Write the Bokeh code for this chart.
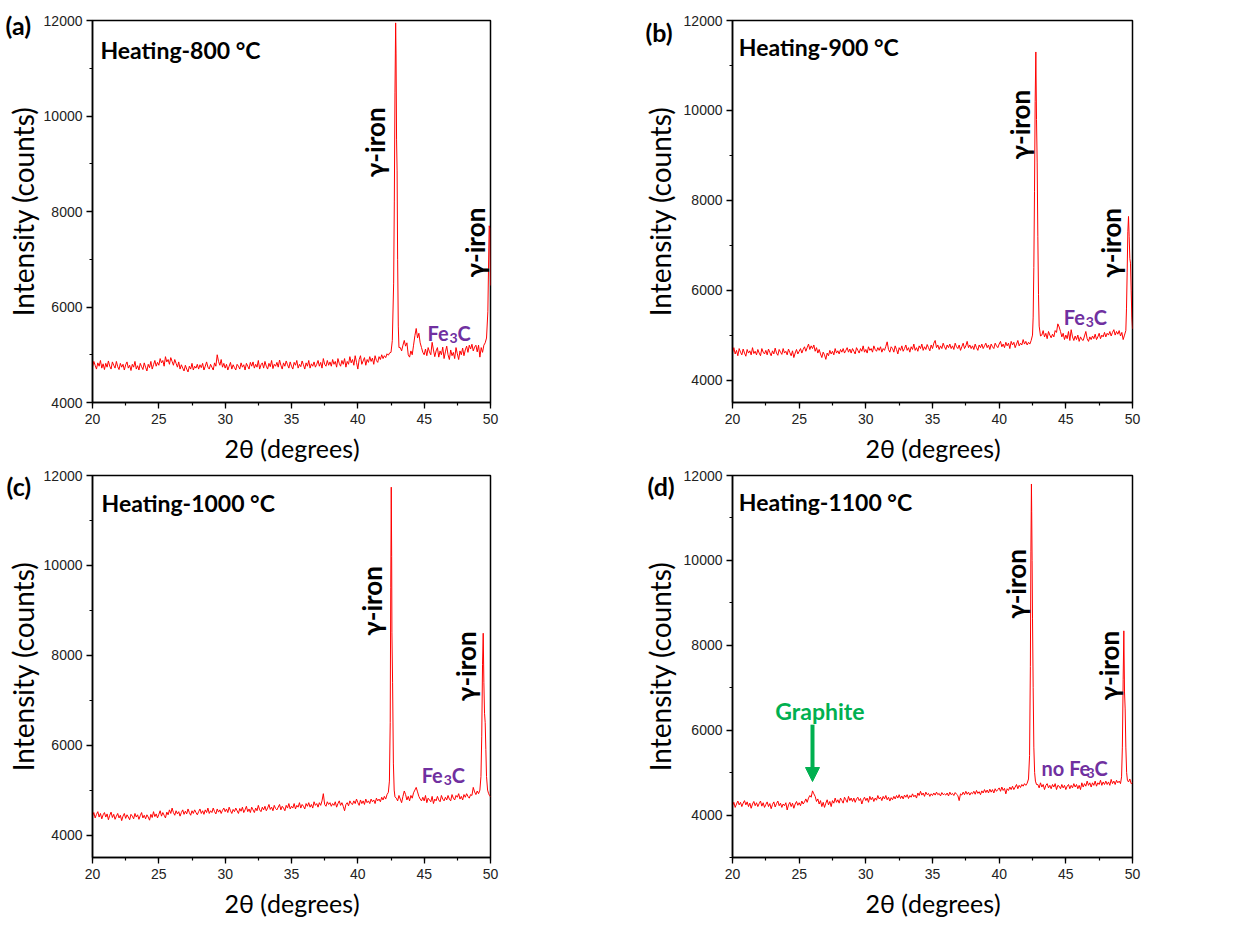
import numpy as np
from bokeh.plotting import figure
from bokeh.layouts import gridplot
from bokeh.models import Label, Arrow, NormalHead, Range1d, SingleIntervalTicker
from bokeh.embed import file_html
from bokeh.resources import INLINE

# ---------------- data ----------------
STEP = 0.1

# (a) Heating-800 °C
a_seg1_start = 20.0
a_seg1_y = [4740, 4860, 4780, 4700, 4830, 4760, 4880, 4720, 4810, 4690,
            4820, 4740, 4870, 4760, 4700, 4850, 4780, 4720, 4860, 4750,
            4690, 4820, 4740, 4800, 4680, 4790, 4850, 4720, 4780, 4670,
            4800, 4740, 4860, 4700, 4770, 4680, 4820, 4750, 4690, 4830,
            4740, 4660, 4800, 4730, 4860, 4700, 4790, 4880, 4760, 4840,
            4780, 4920, 4830, 4880, 4760, 4960, 4850, 4900, 4800, 4940,
            4860, 4780, 4900, 4820, 4740, 4850, 4700, 4790, 4720, 4660,
            4780, 4700, 4640, 4760, 4700, 4820, 4680, 4760, 4720, 4800,
            4700, 4790, 4730, 4820, 4680, 4760, 4850, 4740, 4700, 4800,
            4740, 4680, 4830, 4760, 5000, 4860, 4780, 4900, 4740, 4820,
            4720, 4800, 4680, 4760, 4840, 4700, 4790, 4730, 4680, 4800,
            4760, 4700, 4830, 4740, 4790, 4680, 4820, 4760, 4700, 4840,
            4760, 4850, 4720, 4800, 4740, 4880, 4700, 4790, 4830, 4720,
            4860, 4760, 4700, 4820, 4750, 4880, 4710, 4800, 4760, 4840,
            4740, 4890, 4780, 4700, 4830, 4760, 4870, 4790, 4720, 4850,
            4760, 4700, 4840, 4780, 4880, 4720, 4800, 4750, 4870, 4790,
            4700, 4830, 4760, 4880, 4720, 4810, 4760, 4850, 4740, 4800,
            4880, 4760, 4840, 4720, 4920, 4800, 4760, 4880, 4780, 4850,
            4760, 4900, 4800, 4860, 4740, 4920, 4820, 4760, 4880, 4800,
            4920, 4740, 4860, 4800, 4960, 4830, 4900, 4780, 4980, 4840,
            4700, 4900, 4980, 4800, 4870, 4940, 4780, 4900, 4840, 4960,
            4860, 4930, 4800, 4980, 4880, 4840, 4960, 4900, 5000, 4920,
            4980, 4940, 5020, 4990, 5040]
a_peak1_x = [42.5, 42.6, 42.7, 42.75, 42.8, 42.85, 42.88, 42.92, 42.96, 43.0, 43.05, 43.1]
a_peak1_y = [5050, 5300, 6500, 8200, 10500, 11950, 11300, 9500, 8850, 7000, 5600, 5150]
a_seg2_start = 43.2
a_seg2_y = [5150, 5080, 5200, 5300, 5180, 5250, 5000, 4950,
            5080, 5000, 5200, 5400, 5550, 5350, 5450, 5250, 5150, 5050,
            5000, 5120, 4980, 5150, 5060, 5000, 5260, 5100, 4960, 5080,
            5150, 4950, 5080, 5000, 5160, 4920, 5060, 5180, 5000, 4900,
            5100, 4980, 5050, 4920, 5150, 5020, 4900, 5080, 5000, 5140,
            4980, 5100, 5180, 5050, 5200, 5120, 5220, 5080, 5160, 5200,
            5060, 5200, 4950, 5150, 5050, 5200, 5250]
a_peak2_x = [49.7, 49.8, 49.85, 49.9, 49.95, 50.0]
a_peak2_y = [5350, 5900, 6800, 7700, 7650, 6450]

# (b) Heating-900 °C
b_seg1_start = 20.0
b_seg1_y = [4600, 4720, 4580, 4660, 4540, 4700, 4620, 4560, 4690, 4600,
            4530, 4680, 4600, 4650, 4560, 4720, 4590, 4640, 4560, 4680,
            4600, 4540, 4700, 4620, 4580, 4660, 4560, 4690, 4610, 4540,
            4650, 4580, 4710, 4600, 4550, 4680, 4620, 4570, 4700, 4600,
            4640, 4560, 4690, 4610, 4540, 4650, 4500, 4600, 4680, 4580,
            4640, 4700, 4600, 4680, 4740, 4640, 4720, 4800, 4680, 4760,
            4700, 4780, 4640, 4720, 4600, 4680, 4580, 4500, 4620, 4560,
            4460, 4600, 4540, 4660, 4580, 4640, 4560, 4700, 4600, 4650,
            4580, 4680, 4620, 4700, 4600, 4660, 4720, 4620, 4690, 4600,
            4700, 4640, 4580, 4720, 4660, 4600, 4700, 4640, 4760, 4620,
            4680, 4600, 4740, 4660, 4700, 4620, 4760, 4680, 4640, 4720,
            4660, 4740, 4620, 4700, 4660, 4750, 4850, 4680, 4620, 4740,
            4700, 4620, 4760, 4680, 4580, 4720, 4660, 4760, 4640, 4700,
            4780, 4660, 4720, 4620, 4740, 4680, 4800, 4660, 4720, 4640,
            4760, 4700, 4800, 4660, 4740, 4680, 4790, 4720, 4650, 4780,
            4700, 4820, 4880, 4720, 4780, 4680, 4760, 4700, 4820, 4740,
            4680, 4780, 4720, 4800, 4700, 4760, 4680, 4820, 4740, 4700,
            4780, 4660, 4740, 4820, 4700, 4760, 4860, 4720, 4780, 4700,
            4760, 4680, 4800, 4720, 4660, 4780, 4720, 4800, 4700, 4760,
            4820, 4720, 4780, 4680, 4800, 4740, 4700, 4820, 4760, 4720,
            4800, 4860, 4740, 4800, 4720, 4840, 4760, 4820, 4700, 4860,
            4780, 4840, 4720, 4800, 4880, 4760, 4820, 4780, 4900, 4800,
            4860, 4780, 4840, 4800, 4880]
b_peak1_x = [42.5, 42.55, 42.6, 42.65, 42.7, 42.75, 42.8, 42.85, 42.9, 42.95, 43.0, 43.1]
b_peak1_y = [5000, 5400, 6500, 8200, 10200, 11300, 9800, 8850, 7200, 5900, 5200, 4980]
b_seg2_start = 43.2
b_seg2_y = [5000, 5100, 4960, 5040, 4920, 5080, 5000, 4940,
            5020, 4960, 5100, 5060, 5250, 5180, 5080, 4960, 5040, 4900,
            5000, 4920, 5080, 4880, 5120, 4960, 4880, 4980, 4900, 5000,
            4860, 4960, 4900, 4880, 4980, 5080, 4920, 4860, 4960, 4900,
            4980, 4920, 5020, 4900, 4960, 5040, 4920, 5000, 4960, 5060,
            4960, 5040, 5000, 5080, 4980, 5060, 5120, 5000, 5080, 5020,
            5100, 4980, 5060, 4900, 5000]
b_peak2_x = [49.5, 49.55, 49.6, 49.65, 49.7, 49.75, 49.8, 49.85, 49.9, 49.95, 50.0]
b_peak2_y = [5100, 5600, 6400, 7300, 7640, 7200, 6700, 6600, 6000, 5400, 5140]

# (c) Heating-1000 °C
c_seg1_start = 20.0
c_seg1_y = [4420, 4500, 4380, 4460, 4520, 4400, 4480, 4360, 4450, 4500,
            4400, 4470, 4340, 4440, 4510, 4390, 4460, 4350, 4420, 4480,
            4380, 4440, 4320, 4420, 4480, 4370, 4450, 4400, 4340, 4460,
            4420, 4360, 4480, 4400, 4450, 4350, 4430, 4500, 4380, 4440,
            4360, 4450, 4400, 4330, 4460, 4390, 4520, 4410, 4470, 4380,
            4460, 4540, 4420, 4500, 4440, 4380, 4510, 4450, 4560, 4480,
            4600, 4500, 4440, 4540, 4470, 4520, 4420, 4500, 4560, 4460,
            4530, 4470, 4580, 4500, 4440, 4540, 4480, 4560, 4500, 4450,
            4520, 4580, 4480, 4540, 4460, 4560, 4500, 4600, 4480, 4540,
            4500, 4600, 4520, 4470, 4580, 4510, 4560, 4480, 4550, 4600,
            4520, 4580, 4500, 4620, 4540, 4480, 4570, 4520, 4600, 4540,
            4480, 4590, 4530, 4620, 4500, 4560, 4640, 4520, 4580, 4500,
            4620, 4560, 4500, 4600, 4540, 4660, 4560, 4520, 4620, 4560,
            4640, 4540, 4600, 4680, 4570, 4620, 4540, 4660, 4590, 4560,
            4620, 4680, 4560, 4640, 4600, 4540, 4660, 4600, 4700, 4580,
            4640, 4600, 4700, 4580, 4660, 4620, 4720, 4600, 4680, 4640,
            4580, 4700, 4640, 4720, 4620, 4680, 4600, 4740, 4660, 4700,
            4620, 4720, 4660, 4760, 4920, 4680, 4640, 4740, 4680, 4720,
            4640, 4700, 4660, 4740, 4620, 4700, 4760, 4660, 4720, 4640,
            4540, 4680, 4720, 4650, 4760, 4700, 4680, 4760, 4700, 4800,
            4720, 4660, 4780, 4700, 4760, 4680, 4800, 4720, 4760, 4700,
            4800, 4740, 4780, 4700, 4820, 4760, 4800, 4740, 4840, 4780,
            4860, 4800, 4900]
c_peak1_x = [42.3, 42.38, 42.44, 42.48, 42.52, 42.55, 42.57, 42.62, 42.68, 42.74, 42.8]
c_peak1_y = [4950, 5200, 6500, 9500, 11740, 10200, 8500, 7400, 5600, 5000, 4850]
c_seg2_start = 42.9
c_seg2_y = [4820,
            4760, 4880, 4800, 4720, 4860, 4980, 4900, 4780, 4860, 4760,
            4880, 4820, 4940, 5000, 5060, 4960, 4860, 4800, 4760, 4840,
            4760, 4880, 4720, 4820, 4780, 4740, 4860, 4700, 4800, 4760,
            4860, 4780, 4740, 4880, 4800, 4760, 4840, 4780, 4880, 4800,
            4760, 4900, 4820, 4780, 4880, 4840, 4920, 4800, 4860, 4780,
            4900, 4840, 4920, 4860, 4820, 4900, 4880, 5060, 4960, 4900,
            4980, 4920]
c_peak2_x = [49.2, 49.28, 49.34, 49.4, 49.45, 49.5, 49.55, 49.6, 49.65, 49.7, 49.78, 49.85, 49.92, 50.0]
c_peak2_y = [5000, 5300, 6200, 7800, 8490, 7400, 6710, 6500, 5900, 5300, 5000, 4930, 4880, 4850]

# (d) Heating-1100 °C
d_seg1_start = 20.0
d_seg1_y = [4220, 4300, 4180, 4260, 4330, 4240, 4300, 4200, 4280, 4340,
            4240, 4310, 4200, 4280, 4160, 4260, 4320, 4220, 4290, 4200,
            4270, 4330, 4210, 4290, 4180, 4250, 4310, 4200, 4270, 4150,
            4250, 4310, 4190, 4270, 4330, 4220, 4280, 4180, 4260, 4220,
            4290, 4120, 4240, 4300, 4200, 4280, 4160, 4260, 4320, 4230,
            4290, 4220, 4330, 4260, 4310, 4380, 4300, 4400, 4460, 4420,
            4570, 4500, 4440, 4320, 4380, 4260, 4340, 4200, 4300, 4180,
            4280, 4360, 4240, 4320, 4200, 4340, 4280, 4400, 4300, 4360,
            4280, 4400, 4340, 4280, 4420, 4360, 4300, 4440, 4340, 4400,
            4320, 4400, 4300, 4380, 4420, 4340, 4390, 4260, 4360, 4420,
            4340, 4400, 4300, 4440, 4360, 4420, 4320, 4400, 4350, 4460,
            4380, 4420, 4340, 4440, 4380, 4460, 4360, 4420, 4330, 4410,
            4360, 4440, 4380, 4460, 4400, 4480, 4390, 4450, 4380, 4470,
            4420, 4480, 4390, 4460, 4420, 4500, 4430, 4470, 4400, 4520,
            4460, 4560, 4470, 4520, 4440, 4540, 4480, 4510, 4440, 4500,
            4460, 4520, 4470, 4540, 4480, 4510, 4450, 4530, 4480, 4500,
            4470, 4520, 4450, 4540, 4480, 4510, 4460, 4530, 4490, 4460,
            4340, 4500, 4470, 4540, 4480, 4560, 4490, 4540, 4470, 4530,
            4500, 4560, 4490, 4580, 4510, 4550, 4480, 4570, 4520, 4600,
            4530, 4590, 4520, 4610, 4540, 4600, 4520, 4620, 4560, 4600,
            4640, 4560, 4660, 4580, 4630, 4500, 4620, 4580, 4660, 4600,
            4680, 4600, 4660, 4720, 4620, 4700, 4650, 4720, 4680, 4740,
            4700]
d_peak1_x = [42.1, 42.2, 42.28, 42.34, 42.38, 42.42, 42.44, 42.47, 42.5, 42.55, 42.6, 42.66, 42.72, 42.8]
d_peak1_y = [4750, 4850, 5400, 7500, 10200, 11800, 11150, 10000, 8640, 7000, 5600, 5000, 4800, 4720]
d_seg2_start = 42.9
d_seg2_y = [4720,
            4640, 4760, 4660, 4720, 4600, 4700, 4740, 4640, 4700, 4620,
            4720, 4660, 4740, 4600, 4700, 4680, 4620, 4720, 4640, 4700,
            4600, 4680, 4720, 4620, 4700, 4640, 4740, 4660, 4720, 4620,
            4700, 4600, 4760, 4660, 4740, 4680, 4800, 4700, 4760, 4660,
            4760, 4700, 4800, 4680, 4760, 4720, 4820, 4700, 4780, 4720,
            4800, 4720, 4780, 4700, 4840, 4740, 4800, 4720, 4820, 4760,
            4800, 4740]
d_peak2_x = [49.18, 49.24, 49.3, 49.35, 49.4, 49.45, 49.5, 49.56, 49.62, 49.7, 49.8, 49.9, 50.0]
d_peak2_y = [4900, 5600, 7200, 8340, 6900, 6500, 5600, 5000, 4820, 4780, 4850, 4740, 4760]

X_TICKS_INTERVAL = 5
Y_TICKS_INTERVAL = 2000

RED = "#FF0000"
PURPLE = "#7030A0"
GREEN = "#00B050"
LAB_FONT = "Lato"


def assemble(s1_start, s1_y, p1x, p1y, s2_start, s2_y, p2x, p2y):
    x1 = [round(s1_start + STEP * i, 3) for i in range(len(s1_y))]
    x2 = [round(s2_start + STEP * i, 3) for i in range(len(s2_y))]
    xs = x1 + list(p1x) + x2 + list(p2x)
    ys = list(s1_y) + list(p1y) + list(s2_y) + list(p2y)
    return xs, ys


def make_panel(xs, ys, ylo, w, h, mb, ylab_standoff, heat, heat_pos, irons, fe_prefix, fe_pos):
    p = figure(width=w, height=h, x_range=Range1d(20, 50), y_range=Range1d(ylo, 12000),
               output_backend="svg", toolbar_location=None,
               min_border_left=mb[0], min_border_right=mb[1], min_border_top=mb[2], min_border_bottom=mb[3],
               background_fill_color="white", border_fill_color="white")
    p.xgrid.visible = False
    p.ygrid.visible = False
    p.outline_line_color = "black"
    p.outline_line_width = 1.5
    p.outline_line_alpha = 1.0
    p.xaxis.ticker = SingleIntervalTicker(interval=X_TICKS_INTERVAL, num_minor_ticks=2)
    p.yaxis.ticker = SingleIntervalTicker(interval=Y_TICKS_INTERVAL, num_minor_ticks=2)
    for ax in (p.xaxis[0], p.yaxis[0]):
        ax.axis_line_width = 1.5
        ax.axis_line_color = "black"
        ax.major_tick_out = 6
        ax.major_tick_in = 0
        ax.minor_tick_out = 3
        ax.minor_tick_in = 0
        ax.major_tick_line_width = 1.3
        ax.minor_tick_line_width = 1.2
        ax.major_label_text_font = "Liberation Sans"
        ax.major_label_text_font_size = "14px"
        ax.major_label_text_color = "#222222"
        ax.axis_label_text_font = LAB_FONT
        ax.axis_label_text_font_style = "normal"
        ax.axis_label_text_color = "black"
    p.xaxis.axis_label = "2θ (degrees)"
    p.xaxis.axis_label_text_font_size = "25px"
    p.xaxis.major_label_standoff = 5
    p.xaxis.axis_label_standoff = 6
    p.yaxis.axis_label = "Intensity (counts)"
    p.yaxis.axis_label_text_font_size = "28px"
    p.yaxis.major_label_standoff = 4
    p.yaxis.axis_label_standoff = ylab_standoff

    p.line(xs, ys, line_color=RED, line_width=1)

    p.add_layout(Label(x=heat_pos[0], y=heat_pos[1], text=heat, text_font=LAB_FONT, text_font_style="bold",
                       text_font_size="23px", text_align="left", text_baseline="alphabetic",
                       text_color="black"))
    for (ix, iy) in irons:
        p.add_layout(Label(x=ix, y=iy, text="γ-iron", angle=np.pi / 2, text_font=LAB_FONT,
                           text_font_style="bold", text_font_size="26px", text_align="center",
                           text_baseline="middle", text_color="black"))
    prefix_w = {"": 0, "no ": 23}[fe_prefix]
    parts = [(fe_prefix + "Fe", "20px", 0, 0), ("3", "14px", prefix_w + 22, -5), ("C", "20px", prefix_w + 30, 0)]
    for txt, fs, xo, yo in parts:
        p.add_layout(Label(x=fe_pos[0], y=fe_pos[1], text=txt, x_offset=xo, y_offset=yo, text_font=LAB_FONT,
                           text_font_style="bold", text_font_size=fs, text_align="left",
                           text_baseline="alphabetic", text_color=PURPLE))
    return p


def add_tag(p, text, cx, cy):
    # panel letter, placed in the (otherwise empty) right border panel, canvas coordinates
    p.add_layout(Label(text=text, x=cx, y=cy, x_units="canvas", y_units="canvas",
                       text_font=LAB_FONT, text_font_style="bold", text_font_size="25px",
                       text_align="left", text_baseline="top", text_color="black"), "right")


ax_, ay_ = assemble(a_seg1_start, a_seg1_y, a_peak1_x, a_peak1_y, a_seg2_start, a_seg2_y, a_peak2_x, a_peak2_y)
bx_, by_ = assemble(b_seg1_start, b_seg1_y, b_peak1_x, b_peak1_y, b_seg2_start, b_seg2_y, b_peak2_x, b_peak2_y)
cx_, cy_ = assemble(c_seg1_start, c_seg1_y, c_peak1_x, c_peak1_y, c_seg2_start, c_seg2_y, c_peak2_x, c_peak2_y)
dx_, dy_ = assemble(d_seg1_start, d_seg1_y, d_peak1_x, d_peak1_y, d_seg2_start, d_seg2_y, d_peak2_x, d_peak2_y)

W1, W2 = 620, 616
H1, H2 = 466, 459
pa = make_panel(ax_, ay_, 4000, W1, H1, (92, 130, 20, 64), 1,
                "Heating-800 °C", (20.6, 11391), [(41.26, 9449), (48.83, 7349)], "", (45.25, 5449))
pb = make_panel(bx_, by_, 3500, W2, H1, (112, 104, 20, 64), 4,
                "Heating-900 °C", (20.47, 11406), [(41.55, 9682), (48.41, 7052)], "", (44.85, 5400))
pc = make_panel(cx_, cy_, 3500, W1, H2, (92, 130, 9, 68), 1,
                "Heating-1000 °C", (20.68, 11377), [(41.09, 9208), (48.12, 7755)], "", (44.81, 5325))
pd = make_panel(dx_, dy_, 3000, W2, H2, (112, 104, 9, 68), 4,
                "Heating-1100 °C", (20.47, 11364), [(41.23, 9444), (48.22, 7519)], "no ", (43.18, 5120))

add_tag(pa, "(a)", 5, 9)
add_tag(pb, "(b)", 25, 16)
add_tag(pc, "(c)", 6, 4)
add_tag(pd, "(d)", 27, 4)

# Graphite annotation in (d)
pd.add_layout(Label(x=26.56, y=6463, text="Graphite", text_font=LAB_FONT, text_font_style="bold",
                    text_font_size="23px", text_align="center", text_baseline="alphabetic", text_color=GREEN))
pd.add_layout(Arrow(end=NormalHead(size=14, fill_color=GREEN, line_color=GREEN),
                    x_start=26.0, y_start=6130, x_end=26.0, y_end=4790,
                    line_color=GREEN, line_width=4))

grid = gridplot([[pa, pb], [pc, pd]], toolbar_location=None)

open("out.html", "w").write(file_html(grid, INLINE))
